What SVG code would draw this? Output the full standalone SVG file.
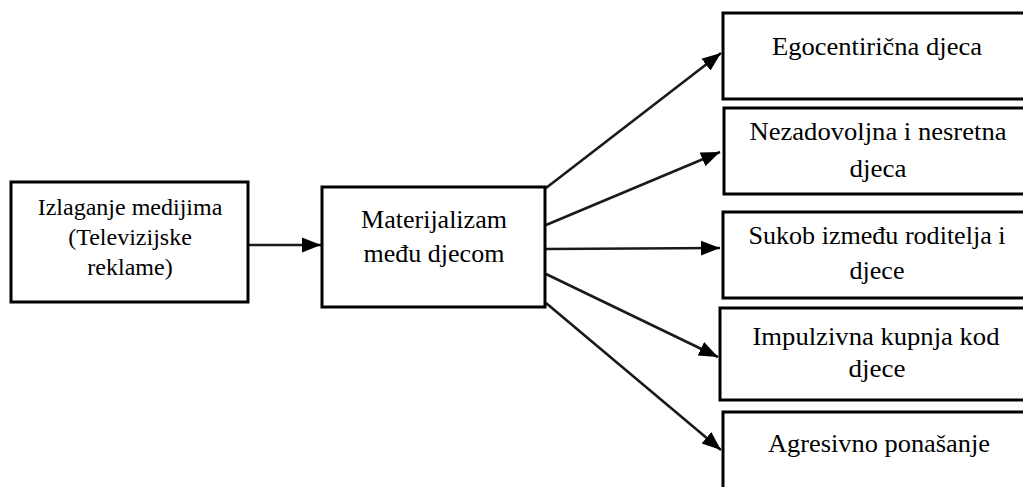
<svg xmlns="http://www.w3.org/2000/svg" width="1023" height="487" viewBox="0 0 1023 487">
<style>
.box{fill:#fff;stroke:#000;stroke-width:3}
text{font-family:'Liberation Serif','Times New Roman','DejaVu Serif',serif;fill:#000;text-anchor:middle}
.l{font-size:24px}
.m{font-size:26px}
.r{font-size:25px}
.c{fill:none;stroke:#1a1a1a;stroke-width:2.6}
</style>
<defs>
<marker id="ah" markerUnits="userSpaceOnUse" markerWidth="22" markerHeight="18" refX="19" refY="9" orient="auto">
<path d="M0,1.5 L19,9 L0,16.5 Z" fill="#000"/>
</marker>
</defs>
<rect width="1023" height="487" fill="#fff"/>
<g id="connectors">
<line class="c" x1="249" y1="245" x2="321" y2="245" marker-end="url(#ah)"/>
<line class="c" x1="546" y1="188" x2="721" y2="53" marker-end="url(#ah)"/>
<line class="c" x1="546" y1="225" x2="720" y2="152" marker-end="url(#ah)"/>
<line class="c" x1="546" y1="249" x2="720" y2="248" marker-end="url(#ah)"/>
<line class="c" x1="546" y1="274" x2="718" y2="357" marker-end="url(#ah)"/>
<line class="c" x1="546" y1="303" x2="721" y2="450" marker-end="url(#ah)"/>
</g>
<g id="izlaganje">
<rect class="box" x="11" y="182" width="237" height="120"/>
<text font-family="Liberation Serif" class="l" x="130" y="215">Izlaganje medijima</text>
<text font-family="Liberation Serif" class="l" x="130" y="245">(Televizijske</text>
<text font-family="Liberation Serif" class="l" x="130" y="275">reklame)</text>
</g>
<g id="materijalizam">
<rect class="box" x="322" y="187" width="223" height="120"/>
<text font-family="Liberation Serif" class="m" x="434" y="228">Materijalizam</text>
<text font-family="Liberation Serif" class="m" x="434" y="262">među djecom</text>
</g>
<g id="egocentricna">
<rect class="box" x="723" y="13" width="310" height="86"/>
<text font-family="Liberation Serif" class="r" x="877" y="55" textLength="210" lengthAdjust="spacingAndGlyphs">Egocentirična djeca</text>
</g>
<g id="nezadovoljna">
<rect class="box" x="724" y="108" width="310" height="86"/>
<text font-family="Liberation Serif" class="r" x="878" y="140" textLength="257" lengthAdjust="spacingAndGlyphs">Nezadovoljna i nesretna</text>
<text font-family="Liberation Serif" class="r" x="878" y="177" textLength="57" lengthAdjust="spacingAndGlyphs">djeca</text>
</g>
<g id="sukob">
<rect class="box" x="723" y="212" width="310" height="86"/>
<text font-family="Liberation Serif" class="r" x="877" y="244" textLength="257" lengthAdjust="spacingAndGlyphs">Sukob između roditelja i</text>
<text font-family="Liberation Serif" class="r" x="877" y="279" textLength="55" lengthAdjust="spacingAndGlyphs">djece</text>
</g>
<g id="impulzivna">
<rect class="box" x="720" y="308" width="313" height="92"/>
<text font-family="Liberation Serif" class="r" x="876" y="345" textLength="247" lengthAdjust="spacingAndGlyphs">Impulzivna kupnja kod</text>
<text font-family="Liberation Serif" class="r" x="877" y="377" textLength="57" lengthAdjust="spacingAndGlyphs">djece</text>
</g>
<g id="agresivno">
<rect class="box" x="723" y="412" width="310" height="90"/>
<text font-family="Liberation Serif" class="r" x="879" y="452" textLength="222" lengthAdjust="spacingAndGlyphs">Agresivno ponašanje</text>
</g>
</svg>
